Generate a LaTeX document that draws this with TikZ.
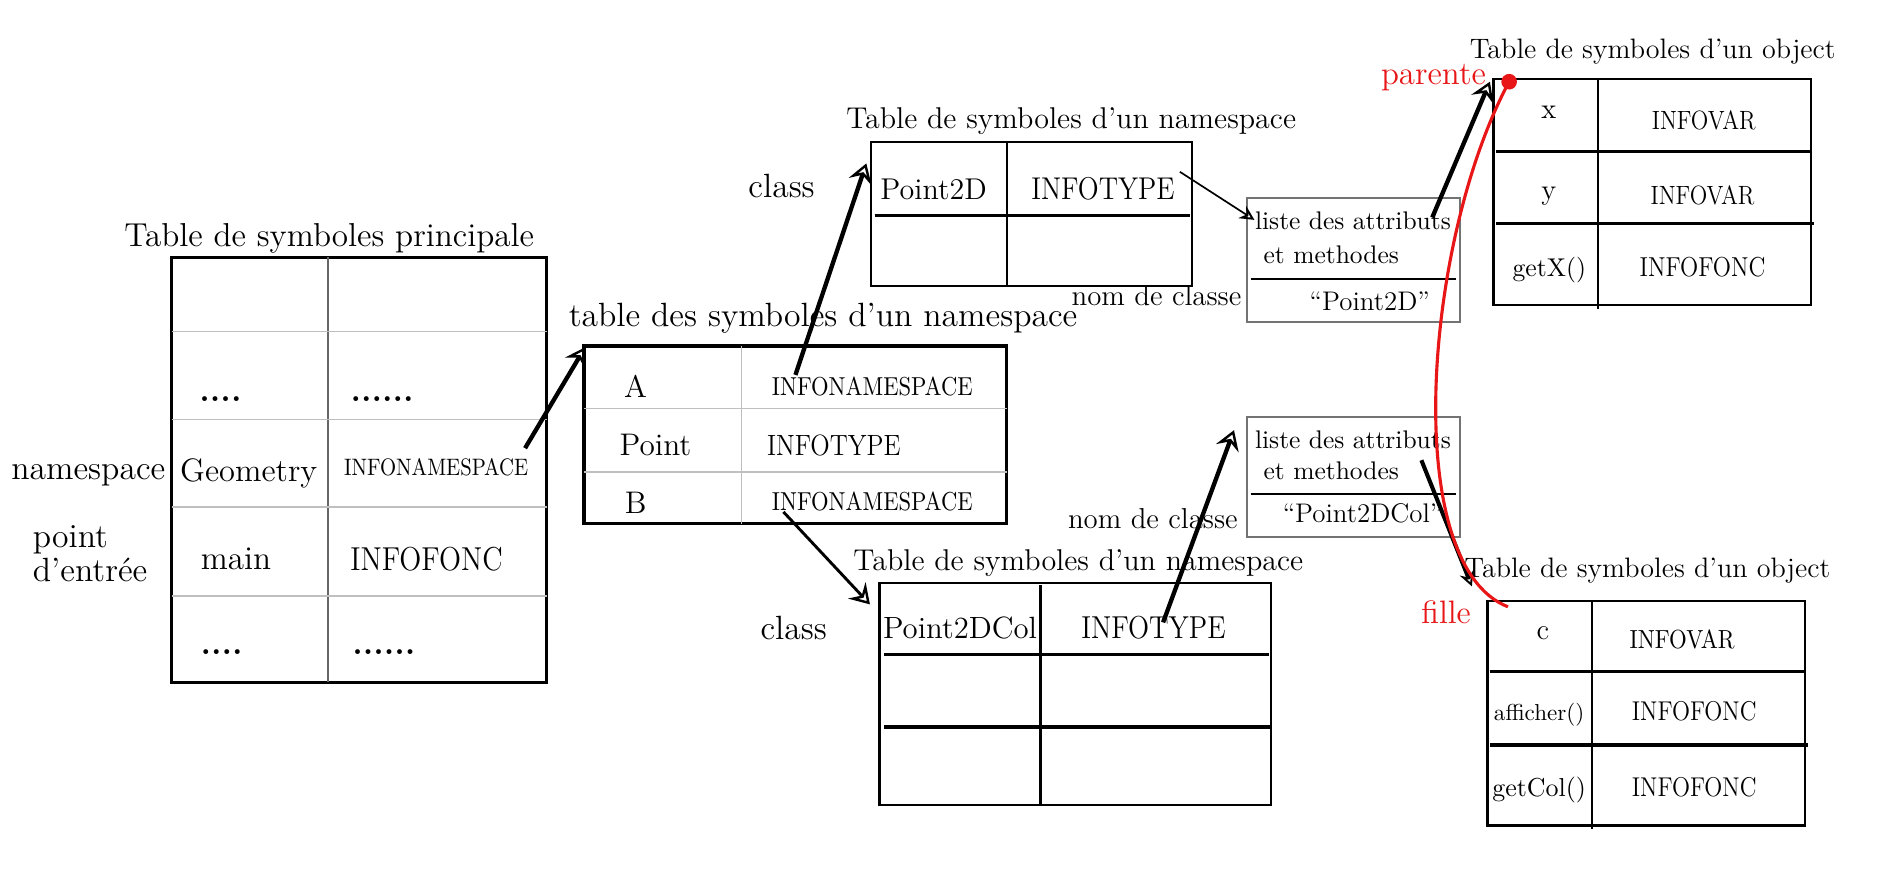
\documentclass[tikz,border=0pt]{standalone}
\usepackage{fontspec}
\usepackage{graphicx}
\usetikzlibrary{arrows.meta,calc}
\newcommand{\fz}[1]{\fontsize{#1}{#1}\selectfont}
\newcommand{\cnd}[1]{\scalebox{0.87}[1]{#1}}
\definecolor{redline}{RGB}{232,22,22}
\begin{document}
\begin{tikzpicture}[x=0.5pt,y=-0.5pt,
  tbl/.style={draw, inner sep=0, outer sep=0, anchor=north west},
  txt/.style={inner sep=0, anchor=base},
  gridg/.style={draw=black!25, line width=0.6pt},
  rule/.style={line width=1.3pt},
  arr/.style={line width=1.8pt, -{Stealth[open, length=8pt, width=10pt, inset=3pt, line width=1pt]}},
  thinarr/.style={-{Stealth[open, length=6pt, width=6pt, inset=2pt, line width=0.8pt]}},
]
\useasboundingbox (0,0) rectangle (1568,730);
\fill[white] (0,0) rectangle (1568,730);

% ---------------- main table
\node[txt, font=\fz{13.8}] (tmain) at (274,205) {Table de symboles principale};
\node[tbl, line width=1.3pt, minimum width=156pt, minimum height=177pt] (main) at (143,214) {};
\draw[draw=black!60, line width=0.6pt] (273,214) -- (273,568);
\foreach \yy in {276,349,422,496} \draw[gridg] (143,\yy) -- (455,\yy);
\node[txt, font=\fz{14}] (mdA) at (183.5,334) {\textbf{....}};
\node[txt, font=\fz{14}] (mdB) at (318,334) {\textbf{......}};
\node[txt, font=\fz{13.5}] (geo) at (207,401) {Geometry};
\node[txt, font=\fz{9.9}] (mns) at (363,396) {\cnd{INFONAMESPACE}};
\node[txt, font=\fz{13.8}] (mmain) at (196.5,474) {main};
\node[txt, font=\fz{13.8}] (mfonc) at (355,475) {\cnd{INFOFONC}};
\node[txt, font=\fz{14}] (mdC) at (184.5,545) {\textbf{....}};
\node[txt, font=\fz{14}] (mdD) at (319.5,545) {\textbf{......}};
\node[txt, font=\fz{14}] (lns) at (73.5,399) {namespace};
\node[txt, anchor=base west, font=\fz{14}] (lpt) at (27,456) {point};
\node[txt, anchor=base west, font=\fz{14}] (lde) at (27,484) {d’entrée};

% ---------------- namespace table
\node[txt, font=\fz{14}] (tns) at (685,272) {table des symboles d’un namespace};
\node[tbl, line width=1.3pt, minimum width=176pt, minimum height=74pt] (ns) at (486,288) {};
\draw[gridg] (617,288) -- (617,436);
\foreach \yy in {340,393} \draw[gridg] (486,\yy) -- (838,\yy);
\node[txt, font=\fz{13}] (nA) at (529,331) {A};
\node[txt, font=\fz{10.8}] (nAi) at (726,329) {\cnd{INFONAMESPACE}};
\node[txt, font=\fz{13}] (nP) at (545.5,379) {Point};
\node[txt, font=\fz{12.2}] (nPi) at (694,379) {\cnd{INFOTYPE}};
\node[txt, font=\fz{13}] (nB) at (529,427) {B};
\node[txt, font=\fz{10.8}] (nBi) at (726,425) {\cnd{INFONAMESPACE}};

% ---------------- Point2D table
\node[txt, font=\fz{12.5}] (tp2) at (891.5,107) {Table de symboles d’un namespace};
\node[tbl, line width=0.9pt, minimum width=133.5pt, minimum height=60pt] (p2) at (725,118) {};
\draw[line width=0.6pt] (838,118) -- (838,238);
\draw[rule] (728,179) -- (990,179);
\node[txt, font=\fz{14}] (c1) at (650.5,164) {class};
\node[txt, font=\fz{12.5}] (p2n) at (777,166) {Point2D};
\node[txt, font=\fz{13.1}] (p2i) at (918,166) {\cnd{INFOTYPE}};

% ---------------- liste 1
\node[tbl, draw=black!55, line width=0.8pt, minimum width=88.5pt, minimum height=51.5pt] (l1) at (1038,165) {};
\draw[line width=1pt] (1041,232) -- (1212,232);
\node[txt, font=\fz{10.6}] (l1a) at (1126,191) {liste des attributs};
\node[txt, font=\fz{10.6}] (l1b) at (1108,219) {et methodes};
\node[txt, font=\fz{11.2}] (l1c) at (1140,258) {“Point2D”};
\node[txt, font=\fz{12}] (nc1) at (962.5,254) {nom de classe};

% ---------------- object 1
\node[txt, font=\fz{11.7}] (to1) at (1375.5,49) {Table de symboles d’un object};
\node[tbl, line width=0.9pt, minimum width=132pt, minimum height=94pt] (o1) at (1243,66) {};
\draw[line width=0.8pt] (1330,66) -- (1330,257);
\draw[rule] (1245,126) -- (1507,126);
\draw[rule] (1245,186) -- (1510,186);
\node[txt, font=\fz{12}] (o1x) at (1289,99) {x};
\node[txt, font=\fz{11}] (o1xi) at (1418,108) {\cnd{INFOVAR}};
\node[txt, font=\fz{12}] (o1y) at (1289,166) {y};
\node[txt, font=\fz{11}] (o1yi) at (1417,170) {\cnd{INFOVAR}};
\node[txt, font=\fz{10.7}] (o1g) at (1289.5,230) {getX()};
\node[txt, font=\fz{11.4}] (o1gi) at (1417,230) {\cnd{INFOFONC}};

% ---------------- Point2DCol table
\node[txt, font=\fz{12.5}] (tp3) at (897.5,475) {Table de symboles d’un namespace};
\node[tbl, line width=0.9pt, minimum width=163pt, minimum height=92.5pt] (p3) at (732,485) {};
\draw[line width=1pt] (866,487) -- (866,670);
\draw[rule] (736,545) -- (1056,545);
\draw[rule] (736,605) -- (1058,605);
\node[txt, font=\fz{14}] (c2) at (660.5,532) {class};
\node[txt, font=\fz{12.8}] (p3n) at (799,531) {Point2DCol};
\node[txt, font=\fz{13.2}] (p3i) at (960,531) {\cnd{INFOTYPE}};

% ---------------- liste 2
\node[tbl, draw=black!55, line width=0.8pt, minimum width=88.5pt, minimum height=50pt] (l2) at (1038,347) {};
\draw[line width=1pt] (1041,411) -- (1212,411);
\node[txt, font=\fz{10.6}] (l2a) at (1126,373) {liste des attributs};
\node[txt, font=\fz{10.6}] (l2b) at (1108,399) {et methodes};
\node[txt, font=\fz{11.2}] (l2c) at (1134,435) {“Point2DCol”};
\node[txt, font=\fz{12}] (nc2) at (959.5,440) {nom de classe};

% ---------------- object 2
\node[txt, font=\fz{11.7}] (to2) at (1371,481) {Table de symboles d’un object};
\node[tbl, line width=0.9pt, minimum width=132pt, minimum height=93.5pt] (o2) at (1238,500) {};
\draw[line width=0.8pt] (1325,500) -- (1325,690);
\draw[rule] (1240,559) -- (1502,559);
\draw[rule] (1240,620) -- (1505,620);
\node[txt, font=\fz{12}] (o2c) at (1284,532) {c};
\node[txt, font=\fz{10.9}] (o2ci) at (1400,540) {\cnd{INFOVAR}};
\node[txt, font=\fz{9.6}] (o2a) at (1281,600) {afficher()};
\node[txt, font=\fz{11.3}] (o2ai) at (1410,600) {\cnd{INFOFONC}};
\node[txt, font=\fz{10.8}] (o2g) at (1281,663) {getCol()};
\node[txt, font=\fz{11.3}] (o2gi) at (1410,663) {\cnd{INFOFONC}};

% ---------------- red labels
\node[txt, font=\fz{13.7}, text=redline] (par) at (1193,70) {parente};
\node[txt, font=\fz{13.5}, text=redline] (fil) at (1203.5,519) {fille};

% ---------------- arrow end points
\coordinate (a1s) at (437,373);  \coordinate (a1e) at (487,289);
\coordinate (a2s) at (662,312);  \coordinate (a2e) at (721,136);
\coordinate (a3s) at (652,426);  \coordinate (a3e) at (724,503);
\coordinate (a4s) at (982,143);  \coordinate (a4e) at (1044,183);
\coordinate (a5s) at (1192,181); \coordinate (a5e) at (1240,68);
\coordinate (a6s) at (968,518);  \coordinate (a6e) at (1027,358);
\coordinate (a7s) at (1183,383); \coordinate (a7e) at (1225,488);

\draw[arr] (a1s) -- (a1e);
\draw[arr] (a2s) -- (a2e);
\draw[arr, line width=1.2pt] (a3s) -- (a3e);
\draw[thinarr, line width=0.7pt] (a4s) -- (a4e);
\draw[arr] (a5s) -- (a5e);
\draw[arr] (a6s) -- (a6e);
\draw[thinarr, line width=1.7pt] (a7s) -- (a7e);

% ---------------- red curve
\coordinate (rd) at (1256,68);
\coordinate (rf) at (1255,505);
\draw[redline, line width=1.3pt] (rd) .. controls (1185,200) and (1165,470) .. (rf);
\fill[redline] (rd) circle (6.5);
\end{tikzpicture}
\end{document}
